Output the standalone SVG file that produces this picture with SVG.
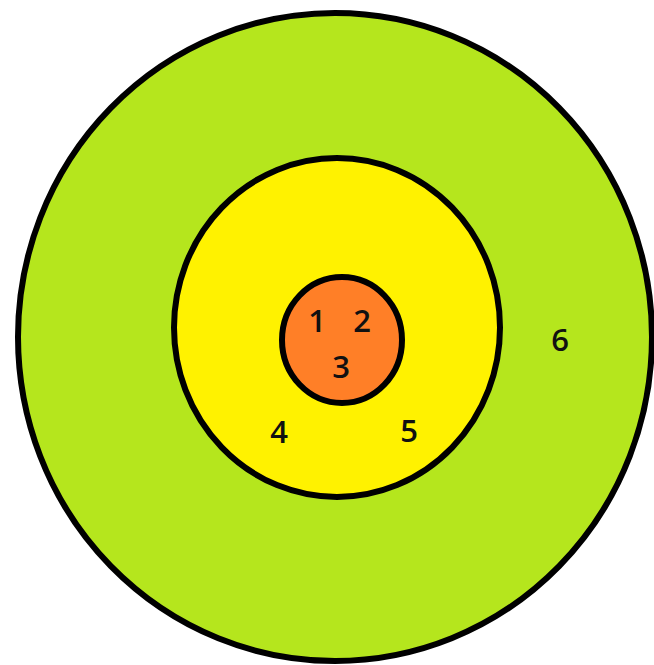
<svg xmlns="http://www.w3.org/2000/svg" width="654" height="665" viewBox="0 0 654 665">
<style>
.ring{stroke:#000;stroke-width:6}
.lbl{font-family:"Open Sans","Noto Sans",sans-serif;font-size:31px;font-weight:600;fill:#111;text-anchor:middle}
</style>
<rect width="654" height="665" fill="#fff"/>
<g id="outer">
<ellipse class="ring" cx="335" cy="337" rx="317" ry="324" fill="#B5E61D"/>
<text class="lbl" x="560" y="351">6</text>
</g>
<g id="middle">
<ellipse class="ring" cx="337" cy="327.5" rx="163" ry="169.5" fill="#FFF200"/>
<text class="lbl" x="279" y="443">4</text>
<text class="lbl" x="409" y="442">5</text>
</g>
<g id="inner">
<ellipse class="ring" cx="342" cy="340" rx="60" ry="63" fill="#FF7F27"/>
<text class="lbl" x="317" y="332">1</text>
<text class="lbl" x="362" y="332">2</text>
<text class="lbl" x="341" y="378">3</text>
</g>
</svg>
